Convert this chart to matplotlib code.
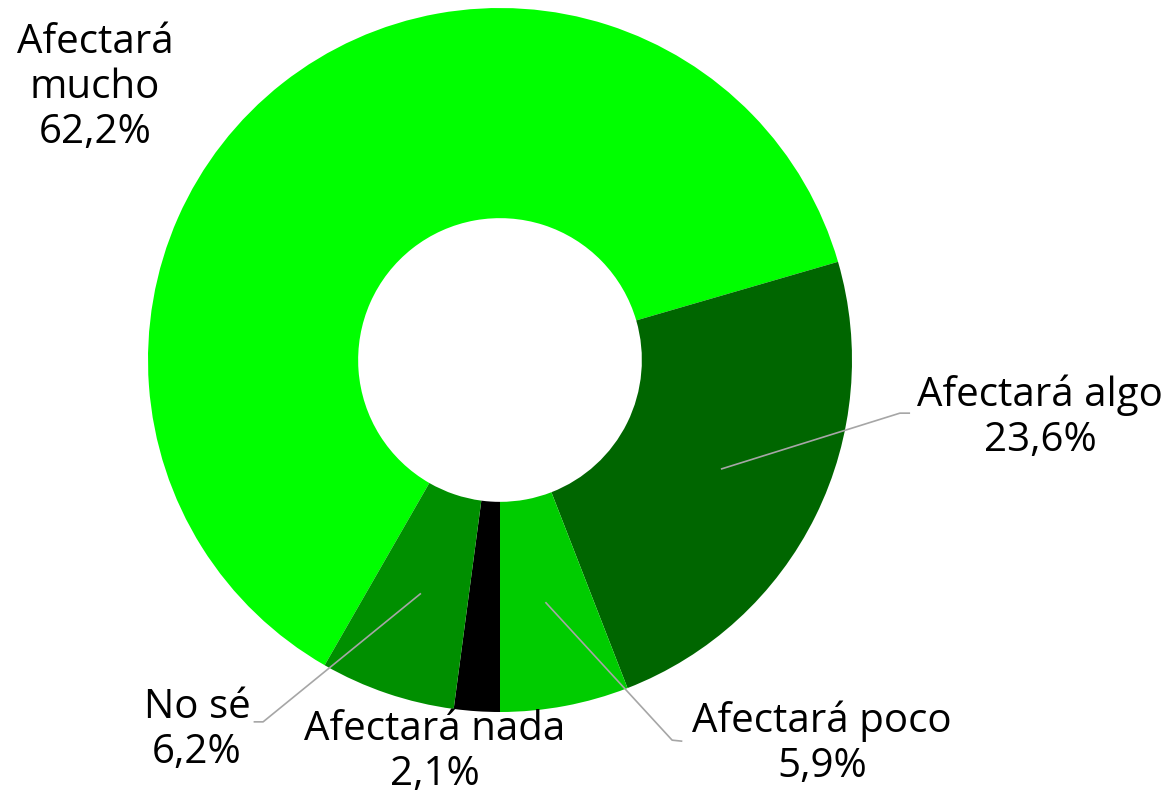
import numpy as np
import matplotlib
matplotlib.use("Agg")
import matplotlib.pyplot as plt

# Data
categories = ["Afectará mucho", "Afectará algo", "Afectará poco", "Afectará nada", "No sé"]
values = [62.2, 23.6, 5.9, 2.1, 6.2]
label_texts = ["Afectará\nmucho\n62,2%", "Afectará algo\n23,6%", "Afectará poco\n5,9%",
               "Afectará nada\n2,1%", "No sé\n6,2%"]
colors = ["#00FF00", "#006600", "#00CC00", "#000000", "#008F00"]

# Label placement (pie radius units) and leader elbows (None = no leader)
label_pos = [(-1.151, 0.773), (1.534, -0.165), (0.915, -1.091), (-0.185, -1.114), (-0.861, -1.051)]
elbows = [None, ((1.136, -0.151), (1.165, -0.151)), ((0.489, -1.080), (0.518, -1.083)),
          None, ((-0.673, -1.028), (-0.700, -1.028))]

plt.rcParams['font.family'] = ['Open Sans', 'DejaVu Sans']

fig = plt.figure(figsize=(11.73, 8), dpi=100)
ax = fig.add_axes([0, 0, 1, 1])

R = 352.0  # pixels
start = 270 - (values[3] + values[4]) * 3.6
wedges, _ = ax.pie(values, colors=colors, startangle=start, counterclock=False,
                   radius=1.0, wedgeprops=dict(width=0.597, linewidth=0))

for i, w in enumerate(wedges):
    x, y = label_pos[i]
    ax.text(x, y, label_texts[i], ha='center', va='center', fontsize=29,
            color='black', linespacing=1.15)
    if elbows[i] is not None:
        mid = np.deg2rad((w.theta1 + w.theta2) / 2)
        sx, sy = 0.70 * np.cos(mid), 0.70 * np.sin(mid)
        (ex, ey), (fx, fy) = elbows[i]
        ax.plot([sx, ex, fx], [sy, ey, fy], color='#A6A6A6', linewidth=1.2,
                solid_capstyle='butt')

ax.set_xlim(-500 / R, 673 / R)
ax.set_ylim(-440 / R, 360 / R)
ax.set_aspect('equal', adjustable='box')
ax.axis('off')

fig.savefig("out.png", dpi=100, facecolor='white')
